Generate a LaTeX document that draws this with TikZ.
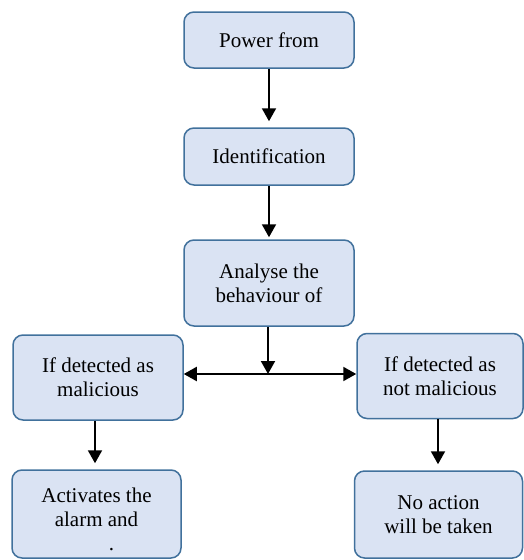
\documentclass[tikz,border=0pt]{standalone}
\usepackage{fontspec}
\setmainfont{Liberation Serif}
\usetikzlibrary{arrows.meta}
\definecolor{boxfill}{HTML}{DAE3F3}
\definecolor{boxdraw}{HTML}{41719C}
\begin{document}
\begin{tikzpicture}[x=1pt,y=-1pt,
  flowbox/.style={draw=boxdraw,fill=boxfill,line width=1.5pt,rounded corners=10pt,
    align=center,inner sep=0pt,font=\fontsize{21}{24}\selectfont},
  arr/.style={line width=2pt,-{Triangle[length=13pt,width=14pt]}}]
\useasboundingbox (0,0) rectangle (524,560);
\node[flowbox,minimum width=170pt,minimum height=56pt] (p) at (269,40) {Power from};
\node[flowbox,minimum width=170pt,minimum height=57pt] (i) at (269,156.5) {Identification};
\node[flowbox,minimum width=170pt,minimum height=86pt] (a) at (269,283) {Analyse the\\behaviour of};
\node[flowbox,minimum width=170pt,minimum height=85pt] (l) at (98,377.5) {If detected as\\malicious};
\node[flowbox,minimum width=166pt,minimum height=85pt] (r) at (440,376) {If detected as\\not malicious};
\node[flowbox,minimum width=169pt,minimum height=88pt] (bl) at (96.5,514) {\rule{0pt}{26pt}Activates the\\alarm and\\\hspace*{30pt}.};
\node[flowbox,minimum width=168pt,minimum height=87pt] (br) at (438.5,514.5) {No action\\will be taken};
\coordinate (j) at (268,374);
\draw[arr,shorten >=6pt] (p) -- (i);
\draw[arr,shorten >=2pt] (i) -- (a);
\draw[arr] (a.south -| j) -- (j);
\draw[arr] (j) -- (j -| l.east);
\draw[arr] (j) -- (j -| r.west);
\draw[arr,shorten >=6pt] (l.south -| 95,0) -- (bl.north -| 95,0);
\draw[arr,shorten >=6pt] (r.south -| 438,0) -- (br.north -| 438,0);
\end{tikzpicture}
\end{document}
